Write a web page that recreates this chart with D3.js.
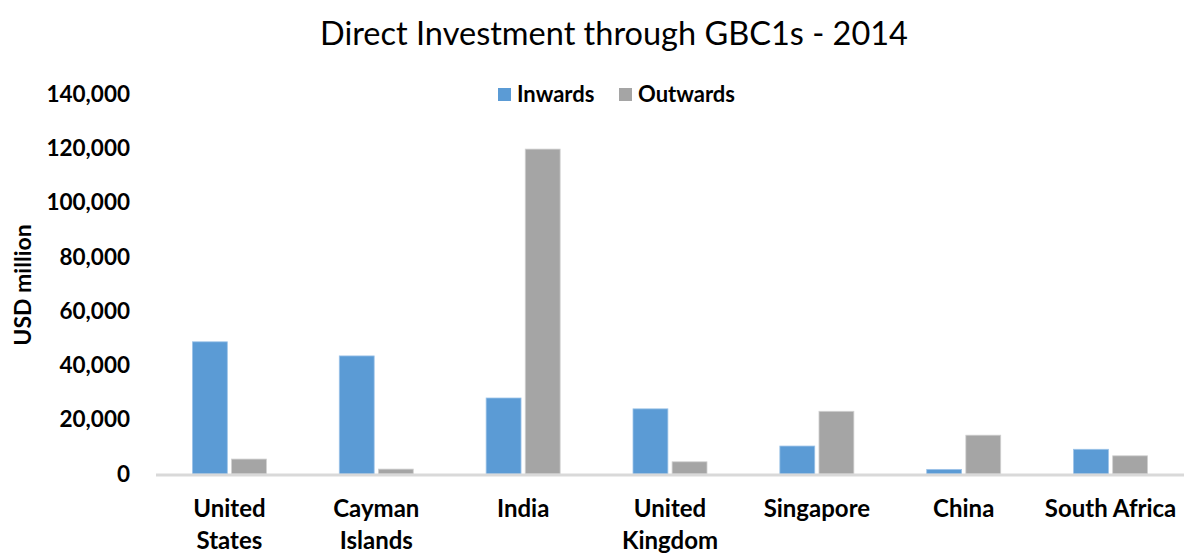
<!DOCTYPE html>
<html>
<head>
<meta charset="utf-8">
<script src="https://cdn.jsdelivr.net/npm/d3@7"></script>
<style>
  html, body { margin: 0; padding: 0; background: #fff; }
  svg { display: block; font-family: Lato, "Open Sans", sans-serif; }
</style>
</head>
<body>
<svg id="chart" width="1184" height="553"></svg>
<script>
// Direct investment through GBC1s, 2014 (USD million)
const categories = [
  ["United", "States"],
  ["Cayman", "Islands"],
  ["India"],
  ["United", "Kingdom"],
  ["Singapore"],
  ["China"],
  ["South Africa"]
];
const inwards  = [48700, 43500, 28000, 24000, 10300, 1700, 9100];
const outwards = [5500, 1800, 119700, 4500, 23100, 14300, 6700];
const seriesNames = ["Inwards", "Outwards"];
const seriesColors = ["#5b9bd5", "#a5a5a5"];
const yTicks = [0, 20000, 40000, 60000, 80000, 100000, 120000, 140000];

const svg = d3.select("#chart");
const W = 1184;
const margin = { left: 156, right: 0, top: 94, bottom: 79 };
const plotBottom = 474;

const x = d3.scaleBand()
  .domain(d3.range(categories.length))
  .range([margin.left, W - margin.right])
  .paddingInner(0).paddingOuter(0);

const y = d3.scaleLinear()
  .domain([0, 140000])
  .range([plotBottom, margin.top]);

const barW = 33, barGap = 8;
const xs = d3.scaleBand().domain([0, 1])
  .range([x.bandwidth() / 2 - barW - barGap / 2, x.bandwidth() / 2 + barW + barGap / 2])
  .paddingInner(barGap / (2 * barW + barGap));

// Title
svg.append("text")
  .attr("x", 614).attr("y", 45)
  .attr("text-anchor", "middle")
  .attr("font-size", 32.5)
  .attr("fill", "#000")
  .text("Direct Investment through GBC1s - 2014");

// Y axis (labels only)
const yAxis = d3.axisLeft(y)
  .tickValues(yTicks)
  .tickSize(0)
  .tickPadding(0)
  .tickFormat(d3.format(","));
const gy = svg.append("g")
  .attr("transform", `translate(130,0)`)
  .call(yAxis);
gy.select(".domain").remove();
gy.selectAll("text")
  .attr("font-size", 22.5)
  .attr("font-weight", "bold")
  .attr("fill", "#000")
  .attr("font-family", "Lato, sans-serif");

// Y axis title
svg.append("text")
  .attr("transform", "translate(31,285) rotate(-90)")
  .attr("text-anchor", "middle")
  .attr("font-size", 23)
  .attr("font-weight", "bold")
  .text("USD million");

// Bars
const series = [inwards, outwards];
series.forEach((vals, si) => {
  svg.append("g").selectAll("rect")
    .data(vals)
    .join("rect")
    .attr("x", (d, i) => x(i) + xs(si))
    .attr("width", xs.bandwidth())
    .attr("y", d => y(d))
    .attr("height", d => y(0) - y(d))
    .attr("fill", seriesColors[si])
    .attr("stroke", si === 0 ? "#9cc3e8" : "#d0d0d0")
    .attr("stroke-width", 0.8);
});

// X axis line
svg.append("line")
  .attr("x1", margin.left).attr("x2", W)
  .attr("y1", plotBottom + 1).attr("y2", plotBottom + 1)
  .attr("stroke", "#d9d9d9")
  .attr("stroke-width", 3);

// X axis labels
const xl = svg.append("g");
categories.forEach((lines, i) => {
  const t = xl.append("text")
    .attr("x", x(i) + x.bandwidth() / 2)
    .attr("y", 517)
    .attr("text-anchor", "middle")
    .attr("font-size", 24)
    .attr("font-weight", "bold")
    .attr("fill", "#000");
  lines.forEach((ln, k) => {
    t.append("tspan")
      .attr("x", x(i) + x.bandwidth() / 2)
      .attr("dy", k === 0 ? 0 : 32)
      .text(ln);
  });
});

// Legend
const legend = svg.append("g");
const legendX = [498, 619];
seriesNames.forEach((name, i) => {
  legend.append("rect")
    .attr("x", legendX[i]).attr("y", 88)
    .attr("width", 13).attr("height", 13)
    .attr("fill", seriesColors[i]);
  legend.append("text")
    .attr("x", legendX[i] + 19).attr("y", 102)
    .attr("font-size", 22)
    .attr("font-weight", "bold")
    .text(name);
});
</script>
</body>
</html>
